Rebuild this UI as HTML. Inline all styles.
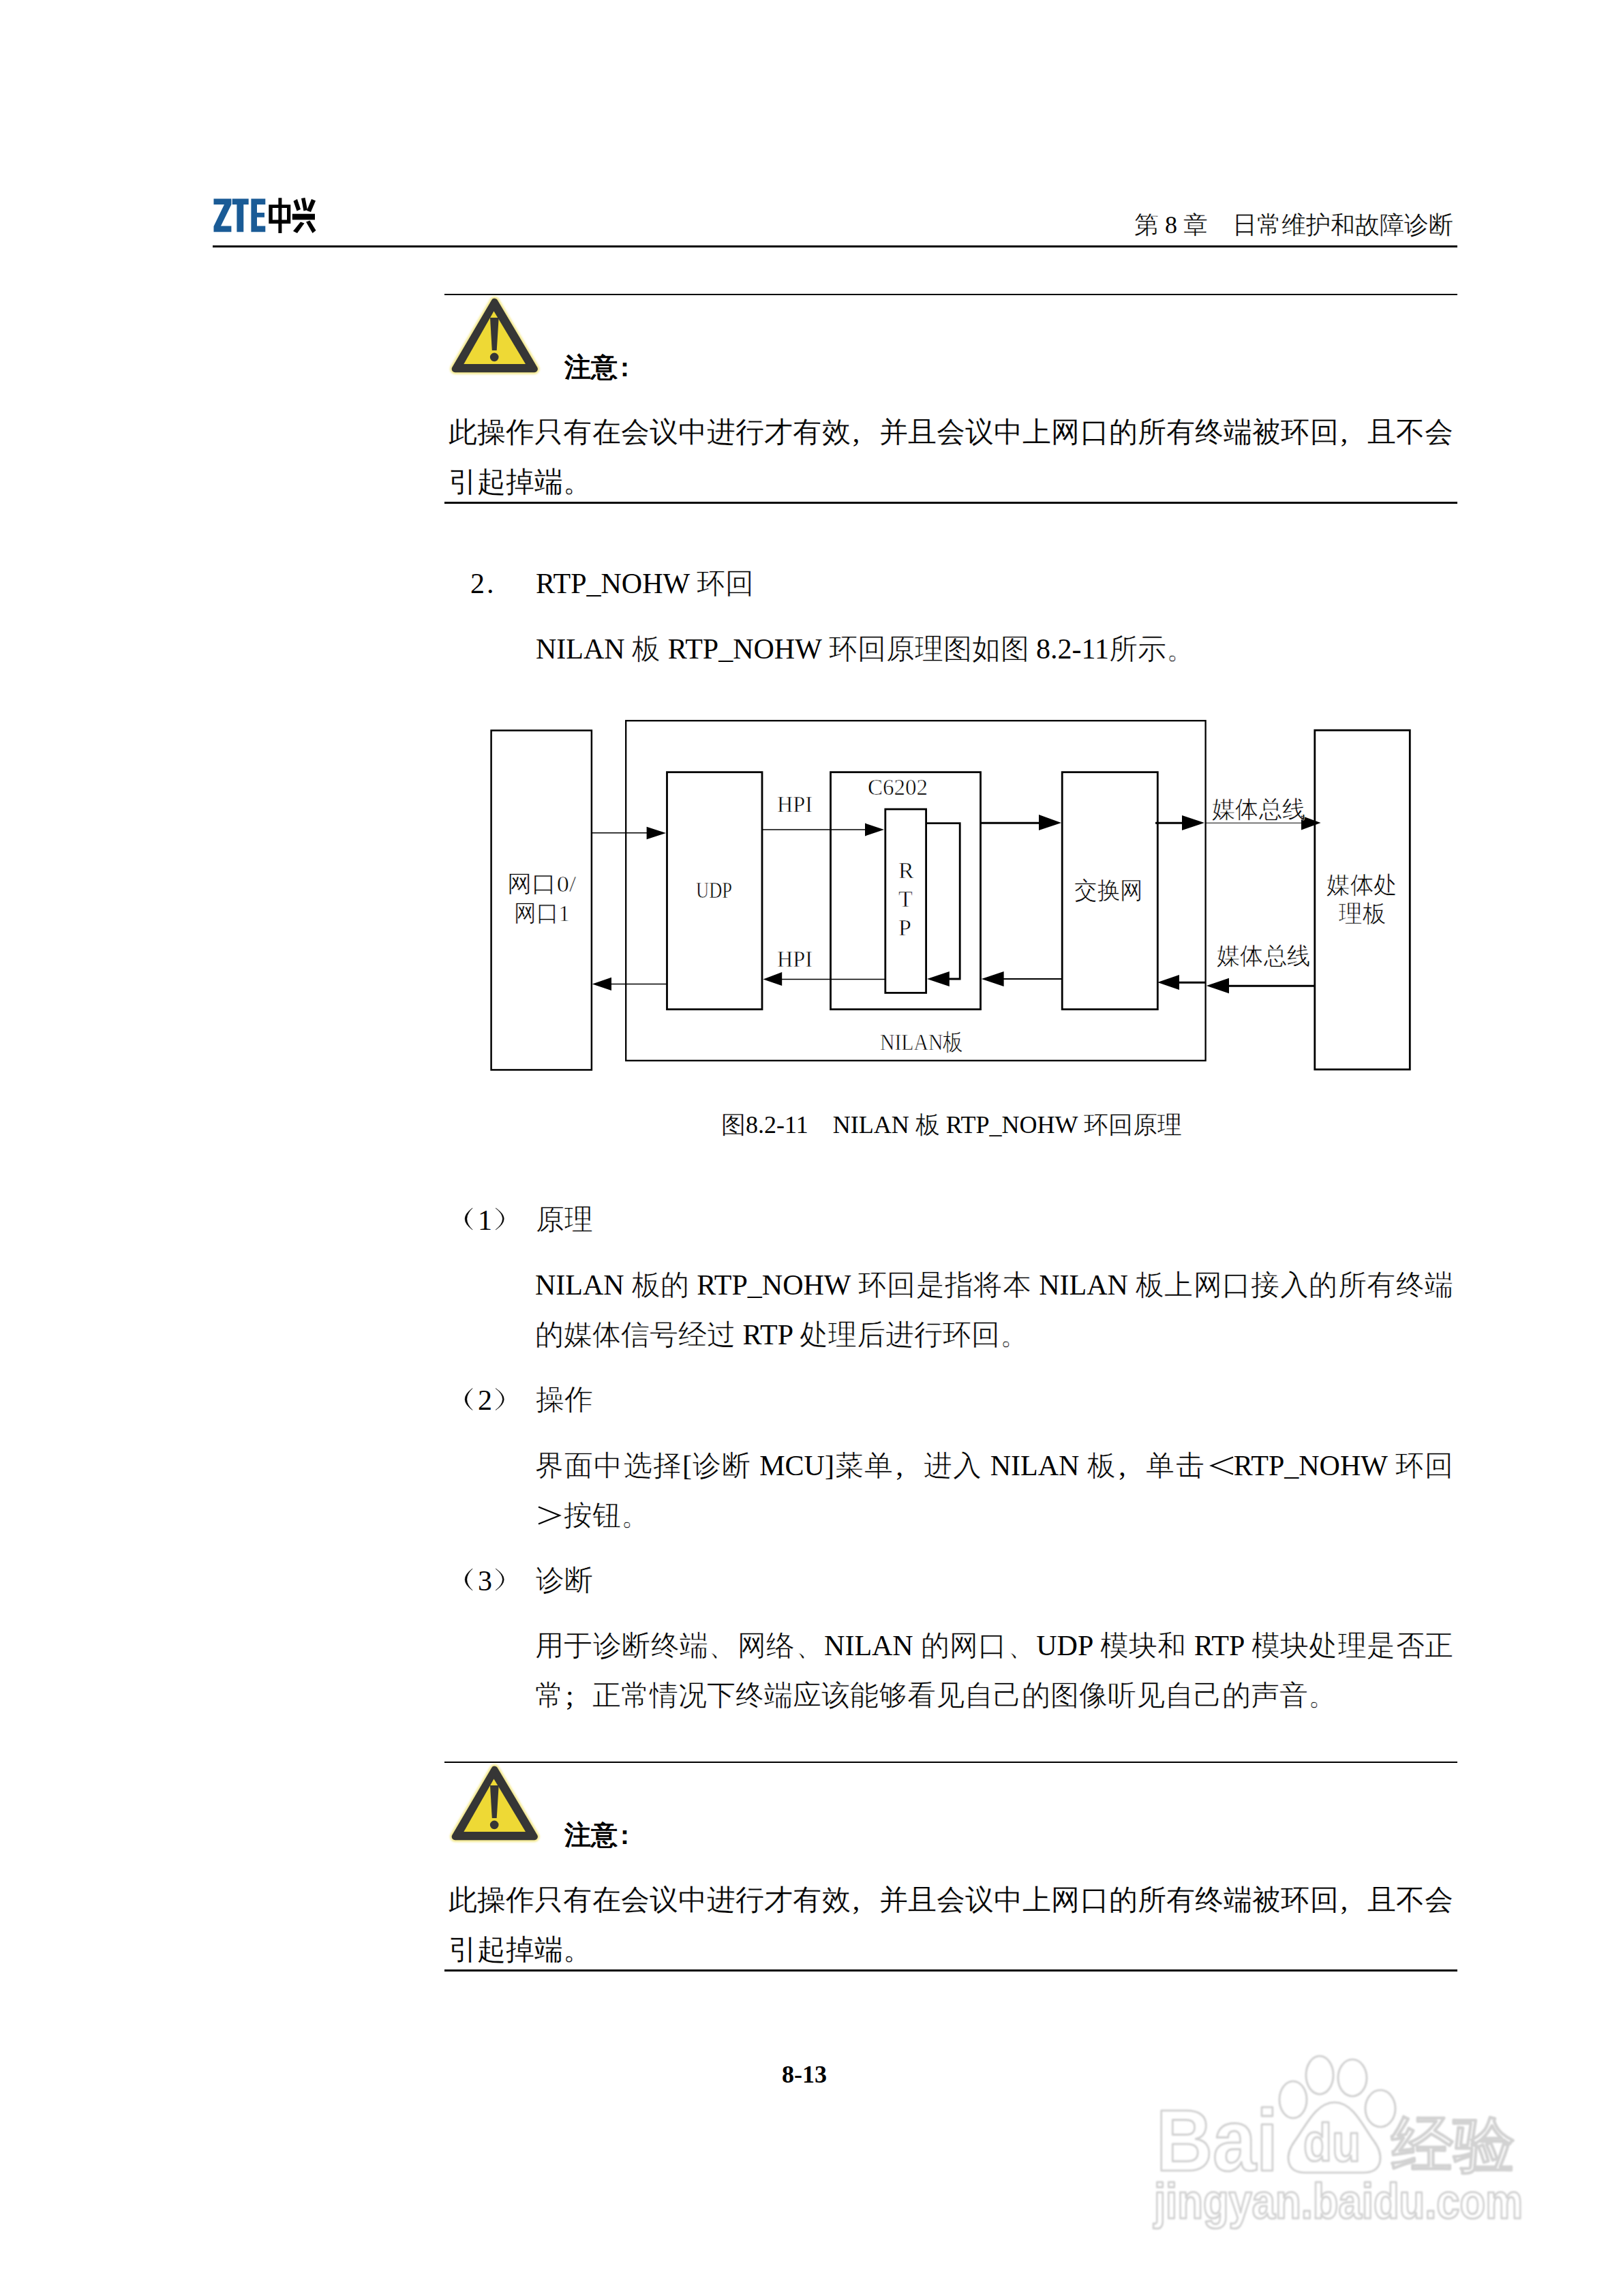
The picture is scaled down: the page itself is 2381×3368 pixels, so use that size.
<!DOCTYPE html>
<html><head><meta charset="utf-8">
<style>
html,body{margin:0;padding:0;background:#fff;}
body{width:2381px;height:3368px;position:relative;overflow:hidden;font-family:"Liberation Serif",serif;color:#000;}
.t{position:absolute;white-space:nowrap;line-height:1;}
.j{text-align:justify;text-align-last:justify;}
.b42{font-size:42px;}
.rule{position:absolute;background:#000;}
.c{-webkit-text-stroke:0.6px #fff;}
.sm .c{-webkit-text-stroke:0.4px #fff;}
.nt .c{-webkit-text-stroke:0.25px #fff;}
.fc{display:inline-block;width:42px;box-sizing:border-box;padding-left:3px;}
svg{position:absolute;left:0;top:0;}
</style></head><body>
<!-- header -->
<svg width="2381" height="400" viewBox="0 0 2381 400">
  <g fill="#1a5b96">
    <polygon points="313.5,291.6 339.4,291.6 339.4,300 324,331.6 339.4,331.6 339.4,340.2 313.5,340.2 313.5,332 329,300 313.5,300"/>
    <polygon points="340.7,291.6 364.7,291.6 364.7,300 357.3,300 357.3,340.2 347.4,340.2 347.4,300 340.7,300"/>
    <polygon points="368.4,291.6 389.3,291.6 389.3,300 377,300 377,311.9 388,311.9 388,318.7 377,318.7 377,331.6 389.3,331.6 389.3,340.2 368.4,340.2"/>
  </g>
  <g fill="#000">
    <path d="M394.3,300.2 H426.3 V327.9 H394.3 Z M399.8,305 V322.5 H421 V305 Z" fill-rule="evenodd"/>
    <rect x="408.4" y="290.3" width="5" height="51.7"/>
    <rect x="428.8" y="313.7" width="33.2" height="8.7"/>
    <polygon points="430.5,295 436,292 441,307 435.5,309.5"/>
    <polygon points="442,291 447.5,290 451,308 445.5,309.5"/>
    <polygon points="457,292 463,294.5 456,311 450,309"/>
    <polygon points="441,325.5 446.5,327.5 436,342 430,339"/>
    <polygon points="449,325.5 454.5,323.5 463.5,338 458.5,342"/>
  </g>
</svg>
<div class="sm t" id="hdr" style="font-size:36px;right:249px;top:312px;"><span class="c">第</span> 8 <span class="c">章</span>&nbsp;&nbsp;&nbsp;&nbsp;<span class="c">日常维护和故障诊断</span></div>
<div class="rule" style="left:312px;top:360px;width:1826px;height:3px;"></div>

<!-- note 1 -->
<div class="rule" style="left:652px;top:431px;width:1486px;height:2px;"></div>
<svg style="left:655px;top:432px" width="145" height="125" viewBox="655 432 145 125"><defs><filter id="hb" x="-20%" y="-20%" width="140%" height="140%"><feGaussianBlur stdDeviation="1.5"/></filter></defs>
  <polygon points="725.5,442.7 783.9,541.2 667.7,541.2" fill="#efe060" stroke="#efe060" stroke-width="15" stroke-linejoin="round" opacity="0.75" filter="url(#hb)"/>
  <polygon points="725.5,442.7 783.9,541.2 667.7,541.2" fill="#363636" stroke="#363636" stroke-width="10" stroke-linejoin="round"/>
  <polygon points="724.5,456.5 771,534 680.4,534" fill="#eed935"/>
  <polygon points="719,466 731.7,466 728.7,514 721.8,514" fill="#363636"/>
  <circle cx="725.2" cy="523.9" r="6.3" fill="#363636"/>
</svg>
<div class="t" style="font-family:'Liberation Sans',sans-serif;font-weight:bold;font-size:39px;left:828px;top:519px;">注意</div><div class="t" style="font-family:'Liberation Sans',sans-serif;font-weight:bold;font-size:39px;left:910px;top:519px;">:</div>
<div class="nt t b42 j" style="left:658px;top:613px;width:1474px;"><span class="c">此操作只有在会议中进行才有效</span><span class="fc">,</span><span class="c">并且会议中上网口的所有终端被环回</span><span class="fc">,</span><span class="c">且不会</span></div>
<div class="nt t b42" style="left:658px;top:686px;"><span class="c">引起掉端。</span></div>
<div class="rule" style="left:652px;top:736px;width:1486px;height:3px;"></div>

<!-- section 2 -->
<div class="t b42" style="left:690px;top:835px;">2</div><div class="t b42" style="left:714px;top:835px;">.</div>
<div class="t b42" style="left:786px;top:835px;">RTP_NOHW <span class="c">环回</span></div>
<div class="t b42" style="left:786px;top:931px;">NILAN <span class="c">板</span> RTP_NOHW <span class="c">环回原理图如图</span> 8.2-11<span class="c">所示。</span></div>

<!-- diagram -->
<svg width="2381" height="1700" viewBox="0 0 2381 1700" style="left:0;top:0">
 <g fill="none" stroke="#000" stroke-linecap="square">
  <rect x="720.6" y="1071.5" width="147.3" height="497.9" stroke-width="2.5"/>
  <rect x="918.2" y="1057.2" width="850.4" height="498.6" stroke-width="2.3"/>
  <rect x="978.5" y="1132.7" width="139.5" height="347.9" stroke-width="2.8"/>
  <rect x="1218.5" y="1132.7" width="220" height="347.9" stroke-width="2.8"/>
  <rect x="1298.8" y="1187" width="59.8" height="269.4" stroke-width="2.8"/>
  <rect x="1558.2" y="1132.7" width="140.1" height="347.9" stroke-width="2.8"/>
  <rect x="1928.8" y="1071.2" width="139.5" height="497.6" stroke-width="2.8"/>
  <polyline points="1358.6,1207.7 1408.2,1207.7 1408.2,1436 1390,1436" stroke-width="2.8" stroke-linecap="butt"/>
  <!-- thin lines -->
  <line x1="868" y1="1221.7" x2="950" y2="1221.7" stroke-width="1.5" stroke-linecap="butt"/>
  <line x1="1118" y1="1217" x2="1270" y2="1217" stroke-width="1.5" stroke-linecap="butt"/>
  <line x1="1438.5" y1="1207.3" x2="1526" y2="1207.3" stroke-width="3" stroke-linecap="butt"/>
  <line x1="1695" y1="1207.3" x2="1736" y2="1207.3" stroke-width="3" stroke-linecap="butt"/>
  <line x1="1768" y1="1207.2" x2="1911" y2="1207.2" stroke-width="1" stroke-linecap="butt"/>
  <line x1="1928" y1="1446.3" x2="1801" y2="1446.3" stroke-width="3" stroke-linecap="butt"/>
  <line x1="1768" y1="1441.2" x2="1728" y2="1441.2" stroke-width="3" stroke-linecap="butt"/>
  <line x1="1558" y1="1436" x2="1470" y2="1436" stroke-width="2" stroke-linecap="butt"/>
  <line x1="1298.8" y1="1436.5" x2="1145" y2="1436.5" stroke-width="1.5" stroke-linecap="butt"/>
  <line x1="978.5" y1="1443.6" x2="895" y2="1443.6" stroke-width="1.5" stroke-linecap="butt"/>
 </g>
 <g fill="#000">
  <polygon points="977,1222 948.6,1212.8 948.6,1231.3"/>
  <polygon points="1297,1217 1269,1207.6 1269,1226.4"/>
  <polygon points="1557,1207 1524,1195 1524,1218"/>
  <polygon points="1767,1207 1734,1196 1734,1218"/>
  <polygon points="1937.6,1207 1909,1196.6 1909,1217.6"/>
  <polygon points="1769.8,1446 1803,1434.8 1803,1457.3"/>
  <polygon points="1698,1441 1730,1430 1730,1452"/>
  <polygon points="1439.8,1436 1472.6,1425 1472.6,1447"/>
  <polygon points="1360,1436 1392.8,1425 1392.8,1447"/>
  <polygon points="1119.5,1436.5 1147.2,1426 1147.2,1446"/>
  <polygon points="868.8,1443.6 897,1433.7 897,1453"/>
 </g>
 <g font-family="Liberation Serif, serif" fill="#000" stroke="#fff" stroke-width="0.6">
  <text id="d_wk0" x="744" y="1308" font-size="34" textLength="101" lengthAdjust="spacingAndGlyphs">网口0/</text>
  <text id="d_wk1" x="754" y="1351" font-size="34" textLength="82" lengthAdjust="spacingAndGlyphs">网口1</text>
  <text id="d_udp" x="1021" y="1317" font-size="34" textLength="53" lengthAdjust="spacingAndGlyphs">UDP</text>
  <text id="d_hpi1" x="1140" y="1191" font-size="34" textLength="52" lengthAdjust="spacingAndGlyphs">HPI</text>
  <text id="d_hpi2" x="1140" y="1418" font-size="34" textLength="52" lengthAdjust="spacingAndGlyphs">HPI</text>
  <text id="d_c62" x="1273" y="1166" font-size="34" textLength="88" lengthAdjust="spacingAndGlyphs">C6202</text>
  <text id="d_r" x="1318" y="1288" font-size="34">R</text>
  <text id="d_t" x="1318" y="1330" font-size="34">T</text>
  <text id="d_p" x="1318" y="1372" font-size="34">P</text>
  <text id="d_jhw" x="1576" y="1318" font-size="35" textLength="101" lengthAdjust="spacingAndGlyphs">交换网</text>
  <text id="d_mt1" x="1778" y="1199" font-size="35" textLength="137" lengthAdjust="spacingAndGlyphs">媒体总线</text>
  <text id="d_mt2" x="1785" y="1414" font-size="35" textLength="137" lengthAdjust="spacingAndGlyphs">媒体总线</text>
  <text id="d_mtc" x="1946" y="1310" font-size="35" textLength="104" lengthAdjust="spacingAndGlyphs">媒体处</text>
  <text id="d_lb" x="1964" y="1352" font-size="35" textLength="69" lengthAdjust="spacingAndGlyphs">理板</text>
  <text id="d_nilan" x="1291" y="1540" font-size="34" textLength="122" lengthAdjust="spacingAndGlyphs">NILAN板</text>
 </g>
</svg>

<!-- caption -->
<div class="sm t" style="font-size:36px;left:1058px;top:1632px;"><span class="c">图</span>8.2-11&nbsp;&nbsp;&nbsp;&nbsp;NILAN <span class="c">板</span> RTP_NOHW <span class="c">环回原理</span></div>

<!-- list -->
<svg style="left:0;top:0" width="760" height="1812.0" viewBox="0 0 760 1812.0"><path d="M693.2,1772.0 Q671,1788.0 693.2,1804.0 Q676.6,1788.0 693.2,1772.0 Z M727,1772.0 Q751.6,1788.0 727,1804.0 Q747.6,1788.0 727,1772.0 Z" fill="#000" stroke="#000" stroke-width="0.5"/></svg>
<div class="t b42" style="left:701px;top:1768.7px;">1</div>
<div class="t b42" style="left:786px;top:1767.7px;"><span class="c">原理</span></div>
<div class="t b42 j" style="left:785px;top:1864.0px;width:1347px;">NILAN <span class="c">板的</span> RTP_NOHW <span class="c">环回是指将本</span> NILAN <span class="c">板上网口接入的所有终端</span></div>
<div class="t b42" style="left:785px;top:1937.0px;"><span class="c">的媒体信号经过</span> RTP <span class="c">处理后进行环回。</span></div>
<svg style="left:0;top:0" width="760" height="2076.5" viewBox="0 0 760 2076.5"><path d="M693.2,2036.5 Q671,2052.5 693.2,2068.5 Q676.6,2052.5 693.2,2036.5 Z M727,2036.5 Q751.6,2052.5 727,2068.5 Q747.6,2052.5 727,2036.5 Z" fill="#000" stroke="#000" stroke-width="0.5"/></svg>
<div class="t b42" style="left:701px;top:2033.2px;">2</div>
<div class="t b42" style="left:786px;top:2032.2px;"><span class="c">操作</span></div>
<div class="t b42 j" style="left:785px;top:2128.5px;width:1347px;"><span class="c">界面中选择</span>[<span class="c">诊断</span> MCU]<span class="c">菜单</span><span class="fc">,</span><span class="c">进入</span> NILAN <span class="c">板</span><span class="fc">,</span><span class="c">单击</span><span style="display:inline-block;width:42px;height:0;position:relative;"><svg style="position:absolute;left:0;top:-28.7px" width="42" height="30" viewBox="0 0 42 30"><path d="M41,2.5 L9,15 L41,27.5" fill="none" stroke="#000" stroke-width="2.2"/></svg></span>RTP_NOHW <span class="c">环回</span></div>
<div class="t b42" style="left:785px;top:2201.5px;"><span style="display:inline-block;width:42px;height:0;position:relative;"><svg style="position:absolute;left:0;top:-28.7px" width="42" height="30" viewBox="0 0 42 30"><path d="M5,2.5 L36,15 L5,27.5" fill="none" stroke="#000" stroke-width="2.2"/></svg></span><span class="c">按钮。</span></div>
<svg style="left:0;top:0" width="760" height="2341.0" viewBox="0 0 760 2341.0"><path d="M693.2,2301.0 Q671,2317.0 693.2,2333.0 Q676.6,2317.0 693.2,2301.0 Z M727,2301.0 Q751.6,2317.0 727,2333.0 Q747.6,2317.0 727,2301.0 Z" fill="#000" stroke="#000" stroke-width="0.5"/></svg>
<div class="t b42" style="left:701px;top:2297.7px;">3</div>
<div class="t b42" style="left:786px;top:2296.7px;"><span class="c">诊断</span></div>
<div class="t b42 j" style="left:785px;top:2393.0px;width:1347px;"><span class="c">用于诊断终端、网络、</span>NILAN <span class="c">的网口、</span>UDP <span class="c">模块和</span> RTP <span class="c">模块处理是否正</span></div>
<div class="t b42" style="left:785px;top:2466.0px;"><span class="c">常</span><span class="fc">;</span><span class="c">正常情况下终端应该能够看见自己的图像听见自己的声音。</span></div>

<!-- note 2 -->
<div class="rule" style="left:652px;top:2584px;width:1486px;height:2px;"></div>
<svg style="left:655px;top:2584.5px" width="145" height="125" viewBox="655 432 145 125">
  <polygon points="725.5,442.7 783.9,541.2 667.7,541.2" fill="#efe060" stroke="#efe060" stroke-width="15" stroke-linejoin="round" opacity="0.75" filter="url(#hb)"/>
  <polygon points="725.5,442.7 783.9,541.2 667.7,541.2" fill="#363636" stroke="#363636" stroke-width="10" stroke-linejoin="round"/>
  <polygon points="724.5,456.5 771,534 680.4,534" fill="#eed935"/>
  <polygon points="719,466 731.7,466 728.7,514 721.8,514" fill="#363636"/>
  <circle cx="725.2" cy="523.9" r="6.3" fill="#363636"/>
</svg>
<div class="t" style="font-family:'Liberation Sans',sans-serif;font-weight:bold;font-size:39px;left:828px;top:2671.5px;">注意</div><div class="t" style="font-family:'Liberation Sans',sans-serif;font-weight:bold;font-size:39px;left:910px;top:2671.5px;">:</div>
<div class="nt t b42 j" style="left:658px;top:2765.5px;width:1474px;"><span class="c">此操作只有在会议中进行才有效</span><span class="fc">,</span><span class="c">并且会议中上网口的所有终端被环回</span><span class="fc">,</span><span class="c">且不会</span></div>
<div class="nt t b42" style="left:658px;top:2838.5px;"><span class="c">引起掉端。</span></div>
<div class="rule" style="left:652px;top:2888.5px;width:1486px;height:3px;"></div>

<div class="t" style="font-size:36px;font-weight:bold;left:1147px;top:3025px;">8-13</div>
<!-- watermark -->
<svg style="left:1650px;top:3000px" width="620" height="300" viewBox="1650 3000 620 300">
 <defs><filter id="bl" x="-5%" y="-5%" width="110%" height="110%"><feGaussianBlur stdDeviation="1.2"/></filter></defs>
 <g filter="url(#bl)" fill="#fff" stroke="#d2d2d2" stroke-width="3.2" stroke-linejoin="round">
  <text x="1696" y="3184" font-family="Liberation Sans, sans-serif" font-weight="bold" font-size="128" textLength="179" lengthAdjust="spacingAndGlyphs">Bai</text>
  <ellipse cx="1897" cy="3080" rx="20" ry="27"/>
  <ellipse cx="1936" cy="3044" rx="20" ry="28"/>
  <ellipse cx="1984" cy="3048" rx="21" ry="27"/>
  <ellipse cx="2025" cy="3093" rx="22" ry="27"/>
  <path d="M1958,3084 C1985,3084 2000,3120 2015,3140 C2030,3160 2030,3187 2000,3187 L1915,3187 C1885,3187 1885,3160 1900,3140 C1915,3120 1930,3084 1958,3084 Z"/>
  <text x="1912" y="3170" font-family="Liberation Sans, sans-serif" font-size="78" font-weight="bold" textLength="84" lengthAdjust="spacingAndGlyphs">du</text>
  <text x="2041" y="3177" font-family="Liberation Sans, sans-serif" font-weight="bold" font-size="90" textLength="182" lengthAdjust="spacingAndGlyphs" stroke-width="1.6">经验</text>
  <text x="1693" y="3254" font-family="Liberation Sans, sans-serif" font-size="72" font-weight="bold" textLength="541" lengthAdjust="spacingAndGlyphs">jingyan.baidu.com</text>
 </g>
</svg>
</body></html>
